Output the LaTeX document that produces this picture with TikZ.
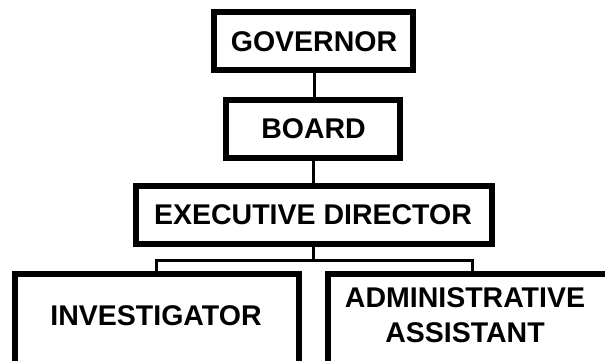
\documentclass[tikz,border=0pt]{standalone}
\usepackage{fontspec}
\setmainfont{Liberation Sans}
\begin{document}
\begin{tikzpicture}[x=1pt,y=1pt,
  box/.style={draw=black,line width=6pt,fill=white,inner sep=0pt},
  lbl/.style={font=\bfseries\fontsize{28.5}{35}\selectfont,align=center,inner sep=0pt,text=black},
  link/.style={draw=black,line width=3pt}]
\useasboundingbox (0,0) rectangle (605,360);
\clip (0,0) rectangle (605,360);
\fill[white] (0,0) rectangle (605,360);
% boxes
\node[box,minimum width=199pt,minimum height=58pt] (gov) at (313.5,319) {};
\node[box,minimum width=174pt,minimum height=58pt] (board) at (313,231) {};
\node[box,minimum width=356pt,minimum height=58pt] (exec) at (314,145) {};
\node[box,minimum width=284pt,minimum height=95pt] (inv) at (157,38.5) {};
\node[box,minimum width=294pt,minimum height=95pt] (adm) at (475,38.5) {};
% connectors
\coordinate (split) at (313,100);
\draw[link] (gov.south -| 314,0) -- (board.north -| 314,0);
\draw[link] (board.south -| 313,0) -- (exec.north -| 313,0);
\draw[link] (exec.south -| split) -- (split);
\draw[link] (inv.north -| 156,0) -- (156,100) -- (472,100) -- (adm.north -| 472,0);
% texts
\node[lbl] (tgov) at (314,318.5) {GOVERNOR};
\node[lbl] (tboard) at (313.5,231.5) {BOARD};
\node[lbl] (texec) at (313,145) {EXECUTIVE DIRECTOR};
\node[lbl] (tinv) at (156,44) {INVESTIGATOR};
\node[lbl] (tadm) at (465,44.5) {ADMINISTRATIVE\\ASSISTANT};
\end{tikzpicture}
\end{document}
